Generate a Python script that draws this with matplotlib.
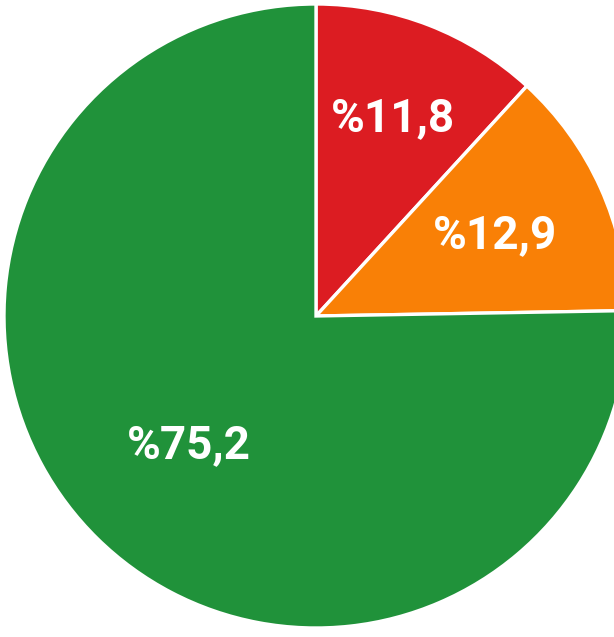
import matplotlib
matplotlib.use("Agg")
import matplotlib.pyplot as plt
import numpy as np

# slice data (clockwise from 12 o'clock)
shares = [11.8, 12.9, 75.2]
share_labels = ['%11,8', '%12,9', '%75,2']
slice_colors = ['#DC1C22', '#F98006', '#20923A']
label_dist = [0.68, 0.63, 0.58]

fig = plt.figure(figsize=(6.14, 6.37), dpi=100)
# pie centre ~ (316, 316) px from top-left, radius ~312 px
R = 312
cx, cy = 316, 637 - 316
ax = fig.add_axes([(cx - R) / 614, (cy - R) / 637, 2 * R / 614, 2 * R / 637])

wedges, texts = ax.pie(shares, labels=share_labels, colors=slice_colors,
                       startangle=90, counterclock=False, labeldistance=0.63,
                       wedgeprops=dict(edgecolor='white', linewidth=2.4),
                       textprops=dict(color='white', fontsize=33, fontweight='bold',
                                      family=['Roboto', 'DejaVu Sans']))
# push each label along its wedge's mid angle
for w, t, d in zip(wedges, texts, label_dist):
    mid = np.deg2rad((w.theta1 + w.theta2) / 2)
    t.set_position((d * np.cos(mid), d * np.sin(mid)))
    t.set_ha('center')
    t.set_va('center')

ax.set_xlim(-1, 1)
ax.set_ylim(-1, 1)
ax.set_aspect('equal')
ax.axis('off')

fig.savefig('out.png', dpi=100)
